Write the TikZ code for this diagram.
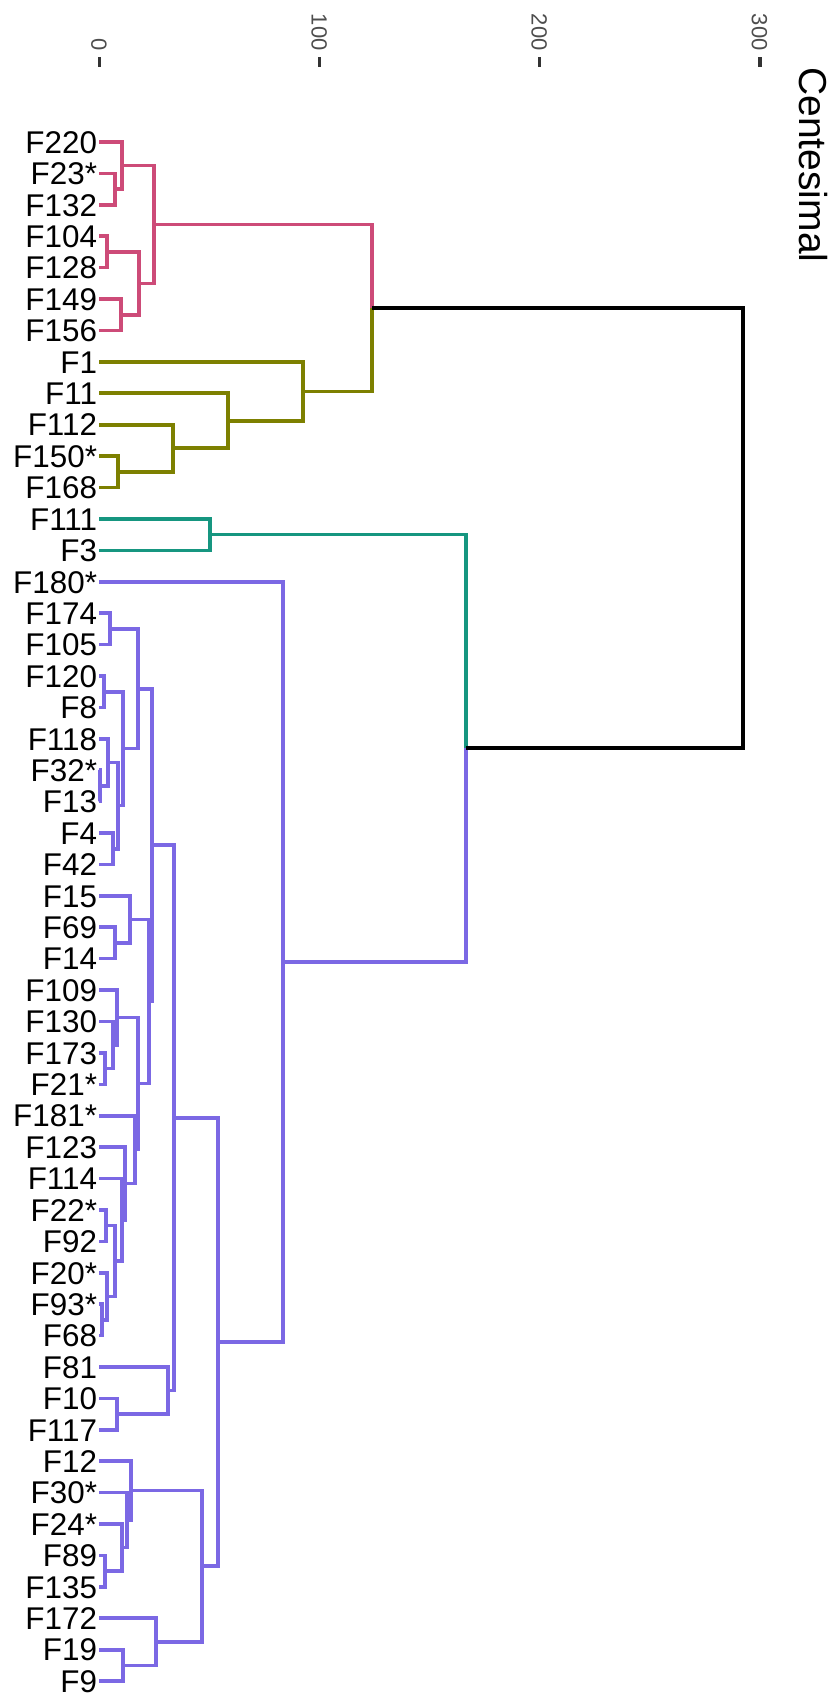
\documentclass[tikz,border=0pt]{standalone}
\usepackage{fontspec}
\setmainfont{Liberation Sans}
\usetikzlibrary{positioning}
\definecolor{Rose}{RGB}{205,75,120}
\definecolor{Moss}{RGB}{125,128,0}
\definecolor{Lagoon}{RGB}{22,150,128}
\definecolor{Iris}{RGB}{123,104,228}
\definecolor{Gray30}{RGB}{77,77,77}
\definecolor{Gray20}{RGB}{51,51,51}

\begin{document}
\begin{tikzpicture}[x=0.5pt,y=-0.5pt,
    leaf/.style={font=\fontsize{15.7}{18}\selectfont,inner xsep=1pt,inner ysep=0pt,outer sep=0pt,minimum height=15.705pt,text height=11.25pt,text depth=0pt},
    axislab/.style={font=\fontsize{11}{13}\selectfont,text=Gray30,rotate=-90,anchor=east,inner sep=0pt,text height=8pt,text depth=0pt},
    tick/.style={Gray20,line width=1.6pt},
    branch/.style={line width=1.8pt},
    rosebr/.style={branch,Rose},
    mossbr/.style={branch,Moss},
    lagoonbr/.style={branch,Lagoon},
    irisbr/.style={branch,Iris},
    rootbr/.style={branch,black}
]
\useasboundingbox (0,0) rectangle (832,1699);

% Leaves: Rose cluster
\node[leaf,anchor=east] (f220) at (99,142) {F220};
\node[leaf,below=0pt of f220.south east,anchor=north east] (f23) {F23*};
\node[leaf,below=0pt of f23.south east,anchor=north east] (f132) {F132};
\node[leaf,below=0pt of f132.south east,anchor=north east] (f104) {F104};
\node[leaf,below=0pt of f104.south east,anchor=north east] (f128) {F128};
\node[leaf,below=0pt of f128.south east,anchor=north east] (f149) {F149};
\node[leaf,below=0pt of f149.south east,anchor=north east] (f156) {F156};

% Leaves: Moss cluster
\node[leaf,below=0pt of f156.south east,anchor=north east] (f1) {F1};
\node[leaf,below=0pt of f1.south east,anchor=north east] (f11) {F11};
\node[leaf,below=0pt of f11.south east,anchor=north east] (f112) {F112};
\node[leaf,below=0pt of f112.south east,anchor=north east] (f150) {F150*};
\node[leaf,below=0pt of f150.south east,anchor=north east] (f168) {F168};

% Leaves: Lagoon cluster
\node[leaf,below=0pt of f168.south east,anchor=north east] (f111) {F111};
\node[leaf,below=0pt of f111.south east,anchor=north east] (f3) {F3};

% Leaves: Iris cluster
\node[leaf,below=0pt of f3.south east,anchor=north east] (f180) {F180*};
\node[leaf,below=0pt of f180.south east,anchor=north east] (f174) {F174};
\node[leaf,below=0pt of f174.south east,anchor=north east] (f105) {F105};
\node[leaf,below=0pt of f105.south east,anchor=north east] (f120) {F120};
\node[leaf,below=0pt of f120.south east,anchor=north east] (f8) {F8};
\node[leaf,below=0pt of f8.south east,anchor=north east] (f118) {F118};
\node[leaf,below=0pt of f118.south east,anchor=north east] (f32) {F32*};
\node[leaf,below=0pt of f32.south east,anchor=north east] (f13) {F13};
\node[leaf,below=0pt of f13.south east,anchor=north east] (f4) {F4};
\node[leaf,below=0pt of f4.south east,anchor=north east] (f42) {F42};
\node[leaf,below=0pt of f42.south east,anchor=north east] (f15) {F15};
\node[leaf,below=0pt of f15.south east,anchor=north east] (f69) {F69};
\node[leaf,below=0pt of f69.south east,anchor=north east] (f14) {F14};
\node[leaf,below=0pt of f14.south east,anchor=north east] (f109) {F109};
\node[leaf,below=0pt of f109.south east,anchor=north east] (f130) {F130};
\node[leaf,below=0pt of f130.south east,anchor=north east] (f173) {F173};
\node[leaf,below=0pt of f173.south east,anchor=north east] (f21) {F21*};
\node[leaf,below=0pt of f21.south east,anchor=north east] (f181) {F181*};
\node[leaf,below=0pt of f181.south east,anchor=north east] (f123) {F123};
\node[leaf,below=0pt of f123.south east,anchor=north east] (f114) {F114};
\node[leaf,below=0pt of f114.south east,anchor=north east] (f22) {F22*};
\node[leaf,below=0pt of f22.south east,anchor=north east] (f92) {F92};
\node[leaf,below=0pt of f92.south east,anchor=north east] (f20) {F20*};
\node[leaf,below=0pt of f20.south east,anchor=north east] (f93) {F93*};
\node[leaf,below=0pt of f93.south east,anchor=north east] (f68) {F68};
\node[leaf,below=0pt of f68.south east,anchor=north east] (f81) {F81};
\node[leaf,below=0pt of f81.south east,anchor=north east] (f10) {F10};
\node[leaf,below=0pt of f10.south east,anchor=north east] (f117) {F117};
\node[leaf,below=0pt of f117.south east,anchor=north east] (f12) {F12};
\node[leaf,below=0pt of f12.south east,anchor=north east] (f30) {F30*};
\node[leaf,below=0pt of f30.south east,anchor=north east] (f24) {F24*};
\node[leaf,below=0pt of f24.south east,anchor=north east] (f89) {F89};
\node[leaf,below=0pt of f89.south east,anchor=north east] (f135) {F135};
\node[leaf,below=0pt of f135.south east,anchor=north east] (f172) {F172};
\node[leaf,below=0pt of f172.south east,anchor=north east] (f19) {F19};
\node[leaf,below=0pt of f19.south east,anchor=north east] (f9) {F9};

% Joins (x = height, y = middle of the two children)
\coordinate (p1) at (115,189.1);
\coordinate (p2) at (122,165.55);
\coordinate (p3) at (107,251.9);
\coordinate (p4) at (121,314.8);
\coordinate (p5) at (139,283.35);
\coordinate (p6) at (154,224.45);
\coordinate (o1) at (118,471.8);
\coordinate (o2) at (173,448.25);
\coordinate (o3) at (228,420.8);
\coordinate (o4) at (303,391.35);
\coordinate (t1) at (210,534.6);
\coordinate (u1) at (110,628.9);
\coordinate (u2) at (104,691.7);
\coordinate (u3) at (100,785.9);
\coordinate (u4) at (108,762.35);
\coordinate (u5) at (113,848.7);
\coordinate (u6) at (118,805.5);
\coordinate (u7) at (123,748.6);
\coordinate (u8) at (138,688.75);
\coordinate (u9) at (115,942.95);
\coordinate (u10) at (130,919.4);
\coordinate (u11) at (105,1068.6);
\coordinate (u12) at (113,1045.05);
\coordinate (u13) at (117,1017.6);
\coordinate (u14) at (102,1319.9);
\coordinate (u15) at (107,1296.35);
\coordinate (u16) at (106,1225.6);
\coordinate (u17) at (115,1260.98);
\coordinate (u18) at (122,1219.7);
\coordinate (u19) at (125,1183.4);
\coordinate (u20) at (135,1149.55);
\coordinate (u21) at (138,1083.6);
\coordinate (u22) at (149,1001.5);
\coordinate (u23) at (152,845.1);
\coordinate (u24) at (117,1414.1);
\coordinate (u25) at (168,1390.55);
\coordinate (u26) at (174,1117.8);
\coordinate (u27) at (105,1571.1);
\coordinate (u28) at (122,1547.55);
\coordinate (u29) at (127,1520.1);
\coordinate (u30) at (131,1490.65);
\coordinate (u31) at (123,1665.4);
\coordinate (u32) at (156,1641.85);
\coordinate (u33) at (202,1566.25);
\coordinate (u34) at (218,1342.0);
\coordinate (u35) at (283,961.85);
\coordinate (c1) at (372,307.9);
\coordinate (c2) at (466,748.2);
\coordinate (root) at (743,528.05);

% Rose branches
\draw[rosebr] (f23.east) -| (p1) |- (f132.east);
\draw[rosebr] (f220.east) -| (p2) |- (p1);
\draw[rosebr] (f104.east) -| (p3) |- (f128.east);
\draw[rosebr] (f149.east) -| (p4) |- (f156.east);
\draw[rosebr] (p3) -| (p5) |- (p4);
\draw[rosebr] (p2) -| (p6) |- (p5);
\draw[rosebr] (p6) -| (c1);

% Moss branches
\draw[mossbr] (f150.east) -| (o1) |- (f168.east);
\draw[mossbr] (f112.east) -| (o2) |- (o1);
\draw[mossbr] (f11.east) -| (o3) |- (o2);
\draw[mossbr] (f1.east) -| (o4) |- (o3);
\draw[mossbr] (o4) -| (c1);

% Lagoon branches
\draw[lagoonbr] (f111.east) -| (t1) |- (f3.east);
\draw[lagoonbr] (t1) -| (c2);

% Iris branches
\draw[irisbr] (f174.east) -| (u1) |- (f105.east);
\draw[irisbr] (f120.east) -| (u2) |- (f8.east);
\draw[irisbr] (f32.east) -| (u3) |- (f13.east);
\draw[irisbr] (f118.east) -| (u4) |- (u3);
\draw[irisbr] (f4.east) -| (u5) |- (f42.east);
\draw[irisbr] (u4) -| (u6) |- (u5);
\draw[irisbr] (u2) -| (u7) |- (u6);
\draw[irisbr] (u1) -| (u8) |- (u7);
\draw[irisbr] (f69.east) -| (u9) |- (f14.east);
\draw[irisbr] (f15.east) -| (u10) |- (u9);
\draw[irisbr] (f173.east) -| (u11) |- (f21.east);
\draw[irisbr] (f130.east) -| (u12) |- (u11);
\draw[irisbr] (f109.east) -| (u13) |- (u12);
\draw[irisbr] (f93.east) -| (u14) |- (f68.east);
\draw[irisbr] (f20.east) -| (u15) |- (u14);
\draw[irisbr] (f22.east) -| (u16) |- (f92.east);
\draw[irisbr] (u16) -| (u17) |- (u15);
\draw[irisbr] (f114.east) -| (u18) |- (u17);
\draw[irisbr] (f123.east) -| (u19) |- (u18);
\draw[irisbr] (f181.east) -| (u20) |- (u19);
\draw[irisbr] (u13) -| (u21) |- (u20);
\draw[irisbr] (u10) -| (u22) |- (u21);
\draw[irisbr] (u8) -| (u23) |- (u22);
\draw[irisbr] (f10.east) -| (u24) |- (f117.east);
\draw[irisbr] (f81.east) -| (u25) |- (u24);
\draw[irisbr] (u23) -| (u26) |- (u25);
\draw[irisbr] (f89.east) -| (u27) |- (f135.east);
\draw[irisbr] (f24.east) -| (u28) |- (u27);
\draw[irisbr] (f30.east) -| (u29) |- (u28);
\draw[irisbr] (f12.east) -| (u30) |- (u29);
\draw[irisbr] (f19.east) -| (u31) |- (f9.east);
\draw[irisbr] (f172.east) -| (u32) |- (u31);
\draw[irisbr] (u30) -| (u33) |- (u32);
\draw[irisbr] (u26) -| (u34) |- (u33);
\draw[irisbr] (f180.east) -| (u35) |- (u34);
\draw[irisbr] (u35) -| (c2);

% Root
\draw[rootbr] (c1) -| (root) |- (c2);

% Axis
\node[axislab] (a0) at (99.3,51) {0};
\node[axislab] (a100) at (319.5,51) {100};
\node[axislab] (a200) at (539.7,51) {200};
\node[axislab] (a300) at (759.9,51) {300};
\draw[tick] (99.3,57) -- (99.3,67);
\draw[tick] (319.5,57) -- (319.5,67);
\draw[tick] (539.7,57) -- (539.7,67);
\draw[tick] (759.9,57) -- (759.9,67);

% Title
\node[font=\fontsize{19.5}{22}\selectfont,rotate=-90,anchor=west,inner sep=0pt,text height=14pt,text depth=0pt] (title) at (813,67) {Centesimal};

\end{tikzpicture}
\end{document}
